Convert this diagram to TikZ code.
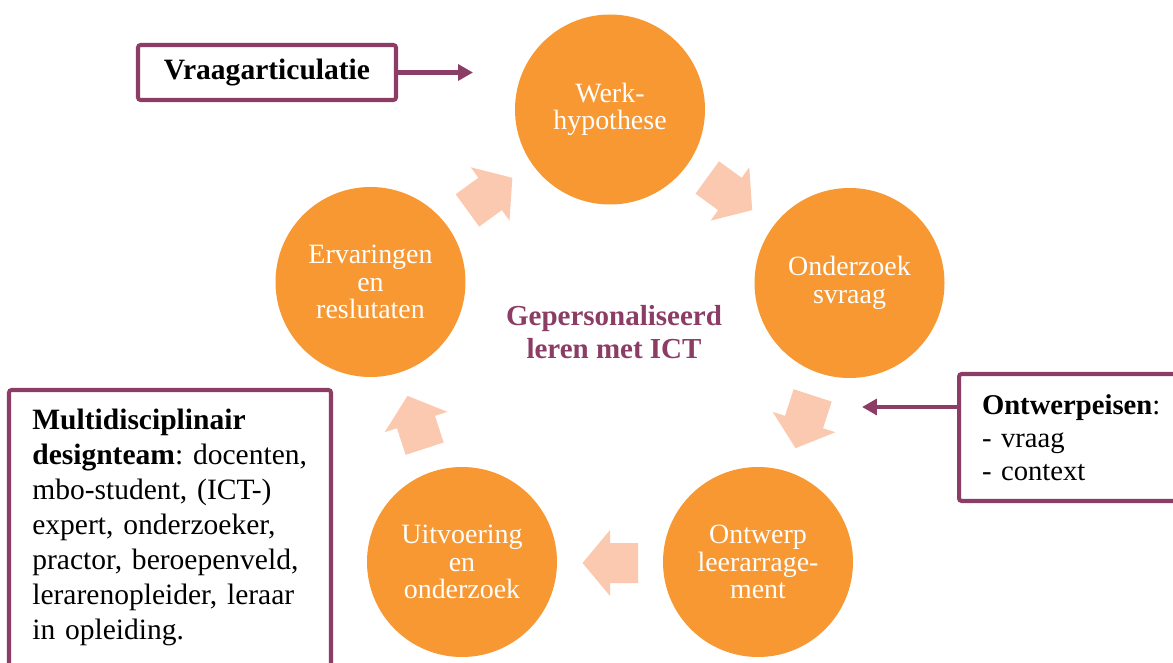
\documentclass[tikz,border=0pt]{standalone}
\usepackage{fontspec}
\setmainfont{Liberation Serif}
\frenchspacing
\definecolor{CycleColor}{RGB}{247,152,51}
\definecolor{ArrowColor}{RGB}{250,201,175}
\definecolor{FrameColor}{RGB}{139,61,102}
\usetikzlibrary{arrows.meta, positioning}
\tikzstyle{fase} = [circle, fill=CycleColor, text=white, minimum size=3.8cm, inner sep=0pt, align=center, font=\fontsize{15.9}{15.65}\selectfont]
\tikzstyle{pijl} = [fill=ArrowColor]
\tikzset{
  kader/.style={draw=FrameColor, line width=2.3pt, rounded corners=1.5pt, fill=white},
  verwijs/.style={FrameColor, line width=2.3pt, -{Triangle[length=8.5pt, width=9pt]}},
  thema/.style={text=FrameColor, align=center, font=\fontsize{16.5}{18.8}\selectfont\bfseries}
}

\begin{document}
\begin{tikzpicture}
    \useasboundingbox (0,0) rectangle (23.46,13.24);
    \clip (0,0) rectangle (23.46,13.24);

    % Cycle of five phases
    \node[fase] (werk) at (12.2,11.05) {Werk-\\hypothese};
    \node[fase] (onderzoek) at (16.99,7.58) {Onderzoek\\svraag};
    \node[fase] (ontwerp) at (15.16,2.00) {Ontwerp\\leerarrage-\\ment};
    \node[fase] (uitvoering) at (9.24,2.00) {Uitvoering\\en\\onderzoek};
    \node[fase] (ervaring) at (7.41,7.60) {Ervaringen\\en\\reslutaten};

    % Arrows between the phases
    \begin{scope}[shift={(12.2,6.06)}]
        \foreach \hoek in {54,-18,-90,-162,126}
            \fill[pijl, shift={(\hoek:4.08)}, rotate=\hoek-90] (-0.56,-0.4) -- (0,-0.4) -- (0,-0.66) -- (0.55,0) -- (0,0.66) -- (0,0.4) -- (-0.56,0.4) -- cycle;
    \end{scope}

    % Theme in the middle
    \node[thema] (midden) at (12.28,6.59) {Gepersonaliseerd\\leren met ICT};

    % Boxes around the cycle
    \node[kader, minimum width=5.16cm, minimum height=1.1cm, font=\fontsize{16.8}{18}\selectfont\bfseries] (articulatie) at (5.34,11.79) {Vraagarticulatie};
    \coordinate (articulatiepunt) at (9.46,11.79);
    \draw[verwijs] (articulatie.east) -- (articulatiepunt);

    \node[kader, anchor=west, minimum height=2.54cm, text width=5cm, inner xsep=0.46cm, align=left, font=\fontsize{16.3}{18.8}\selectfont] (eisen) at (19.14,4.49) {\textbf{Ontwerpeisen}:\\- vraag\\- context};
    \coordinate (eisenpunt) at (17.24,5.1);
    \draw[verwijs] (eisen.west |- eisenpunt) -- (eisenpunt);

    \draw[kader] (0.18,-0.5) rectangle (6.62,5.44);
    \node[anchor=north west, text width=5.9cm, inner sep=0pt, align=left, font=\fontsize{16.8}{19.9}\selectfont] (team) at (0.64,5.06) {\textbf{Multidisciplinair}\\\textbf{designteam}: docenten,\\mbo-student, (ICT-)\\expert, onderzoeker,\\practor, beroepenveld,\\lerarenopleider, leraar\\in opleiding.};
\end{tikzpicture}
\end{document}
